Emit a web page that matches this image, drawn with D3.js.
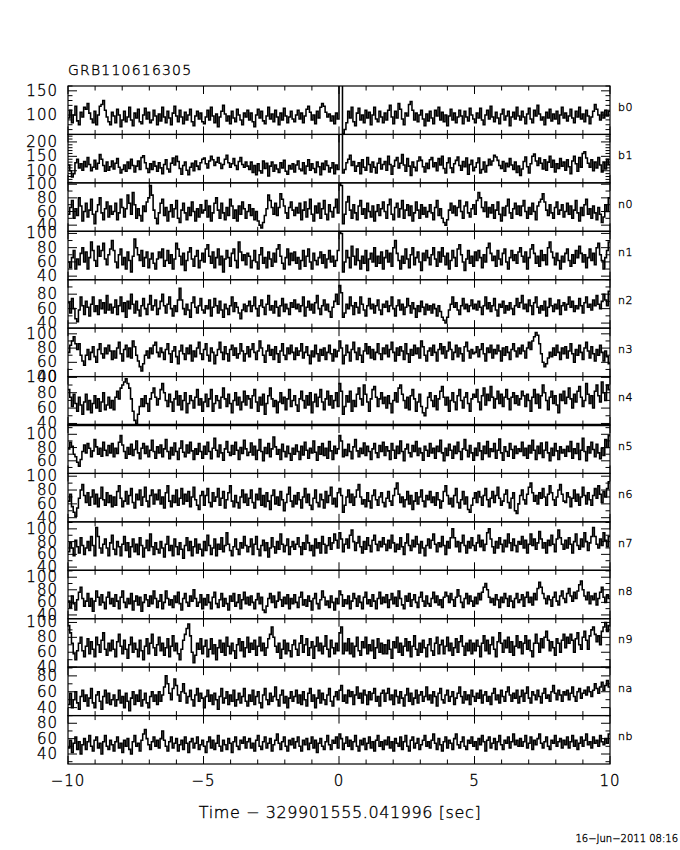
<!DOCTYPE html>
<html><head><meta charset="utf-8">
<script src="https://cdn.jsdelivr.net/npm/d3@7"></script>
<style>body{margin:0;background:#fff}svg text{font-family:"DejaVu Sans",sans-serif;fill:#000;font-weight:200;stroke:#000;stroke-width:0.35}</style>
</head><body><svg id="c" width="680" height="850"></svg>
<script>
const title = "GRB110616305";
const detectors = ["b0","b1","n0","n1","n2","n3","n4","n5","n6","n7","n8","n9","na","nb"];
const yMin = [60,58,31,35,33,40,38,41,34,35,34,40,30,27];
const yMax = [160,226,102,103,100,108,101,114,104,111,111,105,91,90];
const yMajor = [[100,150],[100,150,200],[40,60,80,100],[40,60,80,100],[40,60,80],[40,60,80,100],[40,60,80,100],[60,80,100],[40,60,80,100],[40,60,80,100],[40,60,80,100],[40,60,80,100],[40,60,80],[40,60,80]];
const yMinorStep = [10,10,10,10,10,10,10,10,10,10,10,10,10,10];
const xTickLabels = [-10,-5,0,5,10];
const xLabel = "Time \u2212 329901555.041996 [sec]";
const dateLabel = "16\u2212Jun\u22122011 08:16";
const tStart = -10, tEnd = 10;

const b0 = [94,110,84,100,118,88,80,106,96,116,112,124,104,92,84,108,80,100,118,122,130,110,96,86,80,106,
98,84,112,100,76,90,108,86,96,116,90,78,104,94,112,86,82,100,114,92,106,84,90,110,98,80,
102,88,116,96,84,108,94,80,104,118,98,86,110,96,82,106,90,100,112,86,78,98,108,92,104,86,
82,96,110,90,116,98,84,102,76,96,108,120,102,88,98,82,108,94,86,112,100,90,80,104,96,110,
90,104,86,76,100,112,94,108,88,82,98,116,92,102,86,110,96,80,104,90,114,98,84,96,108,92,
86,100,110,92,104,84,98,112,118,106,90,100,82,108,94,116,124,118,106,96,102,88,98,82,104,92,
178,170,62,70,84,108,94,116,86,78,104,114,90,100,84,110,94,106,80,100,116,92,86,108,96,84,
104,90,110,120,96,82,108,94,124,112,92,80,104,98,122,128,110,90,104,86,100,110,92,78,102,88,
108,94,82,110,98,116,90,106,86,100,78,98,112,90,104,84,96,110,98,82,108,96,88,114,100,92,
84,104,94,114,90,80,100,110,92,118,96,86,106,94,82,102,112,90,98,108,78,96,106,92,116,98,
90,108,96,82,102,114,92,84,110,98,120,102,90,96,80,106,94,112,88,102,92,108,82,100,116,94,
104,88,98,112,94,84,108,96,116,92,102,86,110,98,82,96,108,122,112,100,90,106,94,110,98,108];
const b1 = [120,100,78,90,128,140,110,124,102,132,114,146,122,100,112,136,106,126,156,140,118,98,130,102,114,134,
106,126,142,112,92,104,120,98,130,108,140,118,96,116,134,104,146,152,128,108,94,124,104,132,116,98,
128,110,90,122,138,106,96,126,144,120,150,132,108,88,118,130,102,86,112,126,100,134,116,104,128,140,
144,124,110,134,150,138,118,130,146,126,108,122,140,154,128,112,124,142,118,104,132,146,122,112,130,116,
104,130,94,118,86,124,100,92,134,108,126,82,116,130,98,120,106,94,128,110,136,98,88,118,106,124,
96,120,134,106,100,128,90,116,138,102,124,108,94,130,114,86,126,104,134,118,96,110,128,90,120,104,
250,240,92,104,128,140,154,118,132,98,116,128,90,138,112,102,146,122,96,130,112,92,126,142,106,122,
132,102,150,122,88,116,136,146,110,126,156,120,98,142,116,84,130,112,100,134,148,136,114,96,126,108,
138,146,114,128,100,142,120,150,108,92,128,144,110,94,124,136,148,118,102,132,114,144,88,122,136,100,
112,128,144,92,104,130,96,118,140,120,134,154,148,136,118,108,132,98,126,114,142,120,104,130,94,116,
84,106,132,148,114,92,124,150,158,134,118,144,126,106,138,102,130,150,112,136,96,124,108,142,116,130,
102,138,114,90,134,150,124,98,146,112,160,166,144,126,112,138,100,130,110,146,120,96,130,106,140,122];
const n0 = [56,66,76,50,64,54,80,68,46,60,72,52,62,78,56,42,60,70,80,58,48,64,74,52,68,56,
60,72,48,58,78,66,52,64,84,72,56,88,70,50,64,54,46,68,60,74,80,98,84,62,50,42,
58,72,78,54,66,46,60,70,52,64,76,50,44,62,72,58,48,66,54,74,60,46,64,52,70,58,
62,76,52,68,46,58,72,80,62,50,72,58,48,66,54,78,68,50,62,46,68,56,74,64,50,60,
70,54,64,48,60,46,40,36,44,54,64,84,76,66,56,72,54,66,86,78,68,58,50,66,74,62,
54,66,58,72,48,62,74,52,64,78,56,46,68,58,72,50,64,76,56,48,70,60,52,66,78,58,
104,98,42,56,74,82,62,50,70,58,48,68,76,56,64,50,72,60,52,68,46,60,70,54,64,74,
60,50,70,78,56,48,66,72,52,64,76,50,62,70,54,68,46,58,74,62,50,70,56,66,52,60,
70,58,48,66,76,54,64,50,44,40,48,62,72,58,68,54,66,76,60,50,68,74,58,52,64,70,
56,76,88,80,66,60,74,52,66,58,70,50,62,74,56,46,66,54,68,78,58,50,64,72,56,68,
54,68,76,60,50,66,56,72,60,48,68,74,78,86,74,62,54,70,58,50,66,74,56,62,70,52,
60,72,56,68,50,62,76,58,46,66,54,70,78,56,64,50,68,58,48,66,56,44,52,70,60,80];
const n1 = [60,52,66,76,50,64,56,72,80,60,74,50,66,88,76,62,54,82,68,76,86,64,56,70,78,90,
76,60,52,70,78,56,66,50,74,62,46,68,92,80,70,62,76,54,66,74,52,64,72,58,50,64,
74,66,78,54,62,76,58,70,50,64,86,78,68,56,72,48,62,74,80,64,54,68,76,52,62,72,
60,78,84,68,58,74,52,66,78,56,68,46,64,76,66,54,72,78,62,52,88,74,62,70,56,72,
68,52,62,76,60,50,70,80,58,66,52,74,64,54,72,60,78,84,68,58,50,66,78,56,72,62,
74,58,66,50,62,76,54,68,78,60,50,72,62,56,66,74,58,70,52,64,76,60,68,54,62,76,
106,100,46,60,76,66,52,82,68,56,78,62,50,68,58,76,48,64,72,60,80,54,68,58,74,50,
66,76,60,72,54,80,90,72,62,50,68,58,78,64,52,70,80,56,66,74,60,48,72,62,76,66,
56,70,80,64,54,74,60,80,68,56,72,50,62,76,66,54,78,84,70,60,48,64,76,58,68,54,
74,62,76,66,52,70,60,80,86,72,62,68,54,76,64,56,72,78,60,50,66,76,62,70,58,74,
80,68,60,74,50,66,78,84,72,58,68,54,76,62,70,56,80,88,74,66,56,72,62,50,68,60,
72,78,62,54,70,58,76,66,82,72,60,70,52,66,78,62,72,56,80,86,70,62,50,66,76,88];
const n2 = [68,54,74,60,46,42,58,76,64,52,70,62,50,66,76,56,64,52,72,60,68,54,78,58,66,54,
62,72,52,64,76,56,68,48,70,60,80,66,54,70,58,50,64,74,60,52,66,78,58,64,72,52,
60,70,80,64,54,66,76,60,50,64,56,72,88,72,60,52,66,58,48,68,76,62,54,64,74,58,
54,64,60,72,50,62,74,64,54,70,58,48,66,60,52,64,76,56,68,62,54,46,58,66,56,64,
70,56,64,76,60,50,64,72,62,52,66,78,58,64,54,70,62,50,64,74,56,66,60,52,68,62,
72,60,66,56,64,76,50,62,70,58,66,54,68,78,60,52,64,72,58,66,56,48,62,70,80,66,
92,82,48,54,66,60,76,64,52,68,62,54,76,66,58,50,64,74,60,66,54,64,72,58,52,66,
62,70,56,64,76,60,50,64,72,58,66,52,62,74,64,54,68,60,48,64,56,70,62,52,66,58,
64,54,66,60,50,64,56,48,44,40,48,58,66,76,62,68,58,52,64,74,60,66,56,64,72,60,
66,58,70,62,52,64,76,60,68,56,64,74,58,50,66,62,70,54,64,58,68,60,52,64,74,62,
68,78,60,66,56,72,64,52,68,76,62,54,64,58,70,50,62,74,64,56,66,60,72,52,64,68,
58,66,76,62,70,56,64,60,74,64,54,68,76,62,66,58,72,64,78,66,60,70,80,72,64,84];
const n3 = [74,84,90,96,86,78,86,70,62,56,70,78,64,74,82,68,60,78,86,72,66,80,72,84,76,64,
76,66,80,88,72,62,78,84,68,80,66,90,82,70,62,54,48,58,70,76,66,80,72,84,88,74,
68,80,74,64,78,86,72,60,76,82,68,58,76,84,72,64,80,72,84,62,76,68,80,88,72,64,
78,86,70,62,80,74,58,70,78,88,74,64,82,72,62,78,84,70,80,66,72,86,76,62,72,82,
68,78,86,74,64,76,90,80,70,60,76,84,70,78,64,82,72,60,76,86,70,64,80,72,84,74,
64,80,70,76,86,66,74,82,70,58,76,68,84,72,62,78,70,80,64,74,84,72,62,78,68,76,
90,80,58,70,84,74,62,78,88,74,64,80,70,60,76,86,72,82,66,78,64,74,86,72,64,80,
72,84,68,78,88,74,62,80,70,82,76,64,86,72,60,78,70,84,72,80,66,90,82,70,62,76,
80,70,84,74,62,78,86,72,82,66,76,88,78,64,74,84,68,80,72,62,82,88,76,66,78,72,
74,82,68,78,86,72,62,80,74,84,66,78,72,84,76,62,80,70,82,74,64,78,86,76,68,80,
72,84,76,66,80,88,78,90,96,102,98,86,72,60,54,58,66,74,68,80,70,84,74,64,80,72,
82,66,76,86,72,60,78,70,84,74,64,80,88,76,66,82,72,62,78,70,84,74,62,76,68,58];
const n4 = [84,74,62,78,66,56,74,64,52,68,78,58,70,54,66,76,60,72,56,68,80,58,64,74,60,70,
58,74,82,72,86,90,94,98,92,86,72,56,44,40,52,62,72,62,76,66,56,72,80,86,74,64,
72,84,92,80,70,62,78,68,56,72,82,64,76,58,70,80,54,66,76,70,60,74,84,64,72,56,
68,78,62,72,84,56,66,76,70,60,74,86,72,62,78,66,54,70,80,64,74,58,68,82,64,76,
72,60,76,84,68,56,74,64,78,52,66,76,86,72,62,70,54,68,80,66,74,58,72,84,62,70,
76,64,56,72,82,70,60,76,64,80,54,68,78,62,74,84,68,58,72,82,64,76,60,70,80,62,
92,82,52,62,76,68,82,56,70,62,78,86,72,64,90,78,68,56,72,84,88,74,62,72,80,66,
74,60,76,66,54,70,80,68,86,90,78,70,60,74,58,76,84,72,56,68,78,62,54,50,60,74,
80,70,62,76,58,72,82,88,74,64,74,56,70,80,68,58,76,84,70,60,74,80,66,56,72,78,
74,84,68,58,76,86,64,78,70,88,74,60,72,82,66,78,62,74,84,72,58,74,80,66,76,64,
72,82,76,62,78,70,56,74,84,66,78,60,76,90,80,70,58,74,82,66,76,64,54,78,70,82,
66,74,86,72,60,78,68,82,88,74,62,70,92,78,66,76,60,82,90,76,68,94,80,70,90,84];
const n5 = [78,88,82,70,66,58,52,62,74,84,72,86,79,66,75,92,81,70,79,67,88,76,68,83,72,86,
66,79,71,88,98,84,74,64,80,70,85,68,77,90,72,63,79,86,71,82,66,76,91,74,64,81,
72,84,66,78,92,74,63,80,69,87,74,62,79,90,73,66,84,72,88,75,62,78,70,86,74,64,
82,70,88,74,63,79,94,76,66,84,72,61,78,89,73,68,83,70,88,76,62,80,71,91,78,68,
73,87,69,82,62,76,92,74,60,80,71,86,66,78,96,81,70,77,62,85,74,66,82,71,61,79,
70,84,74,62,82,69,88,76,64,79,72,90,73,61,81,70,86,68,79,64,89,75,62,82,71,78,
98,90,66,77,68,85,74,63,81,92,75,66,79,71,87,68,82,74,62,78,86,72,65,83,74,88,
68,81,75,62,86,76,64,82,71,90,74,60,78,85,72,66,83,74,89,68,79,72,61,82,76,67,
86,72,79,64,82,74,91,72,60,79,68,85,76,64,82,71,88,74,62,78,92,76,66,83,72,61,
79,68,87,75,62,82,71,89,66,78,74,86,64,76,93,72,61,81,74,67,86,77,64,82,71,78,
74,88,68,79,64,83,72,91,76,62,82,71,87,65,76,88,72,60,79,68,86,75,62,81,72,77,
67,82,74,89,64,78,71,86,62,76,94,74,60,81,72,88,77,66,85,72,63,79,68,92,80,98];
const n6 = [64,74,56,48,42,54,68,80,88,72,62,76,58,70,80,60,74,56,68,84,66,58,76,62,72,56,
70,58,78,86,68,56,64,78,60,72,82,62,54,74,66,80,58,70,84,64,56,72,80,60,74,66,
80,60,70,54,76,86,64,56,72,62,80,58,68,82,60,74,64,78,56,70,84,66,58,52,72,78,
58,72,82,62,56,76,64,70,82,58,68,78,54,66,76,86,64,56,72,62,54,70,80,62,74,58,
68,80,62,54,74,66,82,58,72,56,76,64,52,72,80,60,70,58,78,66,50,62,74,84,64,56,
72,60,76,66,54,70,82,62,74,58,52,68,80,62,56,74,66,54,78,62,72,84,60,68,56,76,
82,72,48,58,70,80,62,74,58,70,80,88,70,60,66,56,76,64,54,72,80,66,58,70,76,62,
56,68,78,64,58,72,82,90,74,62,70,56,66,78,60,72,52,64,76,60,70,80,64,56,72,66,
78,62,70,58,76,66,54,64,78,86,72,60,68,56,72,82,62,54,66,78,60,70,52,48,58,68,
76,62,78,70,58,72,82,66,56,68,78,62,72,84,68,58,64,74,80,62,54,68,76,50,46,60,
72,80,66,60,74,84,90,76,64,72,60,76,68,82,70,58,74,86,76,66,58,70,80,88,74,64,
62,76,70,56,68,80,64,74,58,70,84,72,60,76,66,58,72,82,68,86,74,62,78,70,82,92];
const n7 = [64,78,70,58,82,72,62,86,74,60,70,80,66,88,74,58,102,88,70,62,76,84,70,58,78,90,
68,60,80,72,58,76,88,66,78,56,72,84,64,76,60,86,74,56,70,82,66,92,72,60,78,68,
62,80,70,56,76,88,66,74,58,84,72,60,78,68,54,74,86,66,80,58,72,84,62,76,68,58,
80,66,90,74,60,70,84,58,76,68,86,64,74,94,76,66,58,72,84,68,60,78,70,88,74,64,
72,84,60,76,88,68,58,74,82,66,78,56,70,86,72,62,80,68,92,76,64,74,84,60,72,80,
68,76,86,72,60,78,68,90,78,66,74,58,84,70,78,62,88,76,62,74,86,68,78,92,82,70,
94,84,64,76,84,70,90,98,80,66,78,88,72,62,80,68,86,74,64,82,90,76,66,80,72,86,
76,66,82,70,90,78,64,76,68,86,72,60,78,92,74,66,82,72,88,76,62,80,70,58,74,84,
70,82,92,76,64,78,72,88,74,60,80,70,86,100,86,72,80,64,78,90,74,62,80,70,86,74,
66,78,90,72,82,66,76,94,100,84,72,62,80,70,86,76,64,82,72,92,78,66,84,74,64,80,
76,88,70,82,62,76,92,74,84,68,78,96,84,70,78,62,82,74,90,76,64,84,98,86,76,68,
82,70,86,76,62,80,92,74,68,84,72,94,80,66,78,88,102,88,76,70,84,74,94,82,72,88];
const n8 = [62,52,70,58,48,64,76,84,66,54,62,74,54,66,46,62,78,68,56,72,60,50,68,76,58,66,
54,72,62,50,68,78,60,52,66,58,74,48,62,70,56,68,46,60,72,64,54,70,58,78,66,52,
62,72,50,60,78,66,56,64,52,70,60,76,58,48,66,74,60,54,70,62,80,66,54,60,72,50,
66,56,72,60,50,68,76,58,52,64,74,54,66,58,48,70,62,74,54,60,72,50,64,76,58,68,
56,70,60,50,64,74,58,68,48,44,54,66,74,60,70,52,62,76,64,54,68,58,72,50,66,58,
72,60,52,68,76,56,64,54,70,62,48,66,74,58,50,64,78,68,56,62,52,70,60,48,66,58,
78,72,54,64,58,70,50,62,74,66,54,70,60,50,68,76,58,64,54,72,62,50,66,76,58,68,
60,72,52,64,74,58,68,54,78,66,56,50,70,62,74,54,64,72,60,52,68,76,62,54,70,58,
54,66,76,60,70,56,64,52,68,76,70,60,74,64,54,68,80,70,60,52,66,74,58,70,62,54,
68,58,74,64,76,84,90,80,68,60,66,56,72,64,52,68,60,74,66,54,70,62,52,66,74,60,
64,72,54,68,76,60,68,56,74,64,82,92,84,74,66,58,70,64,54,68,76,62,56,70,78,66,
60,74,82,70,62,76,66,78,88,94,80,70,64,76,58,70,64,74,56,66,76,84,68,60,72,66];
const n9 = [96,86,72,58,50,62,72,80,62,54,68,78,58,74,64,54,80,70,60,76,86,64,56,72,62,76,
64,54,74,84,68,58,76,64,52,70,80,60,72,64,54,76,62,50,68,78,58,72,84,66,56,70,
80,62,72,56,66,78,54,68,82,62,72,58,50,64,76,84,92,98,82,60,46,56,72,64,78,58,
68,76,54,64,78,58,70,50,66,76,60,72,56,80,68,58,72,62,52,70,78,62,74,54,66,80,
60,72,64,76,56,68,80,62,72,56,66,78,84,94,80,68,60,72,52,64,76,58,72,62,54,70,
76,64,56,72,82,60,70,78,56,66,74,52,68,80,62,72,58,68,82,64,54,76,66,58,72,62,
86,94,58,72,62,78,58,72,54,68,80,62,56,74,66,80,58,70,62,76,52,66,78,60,72,58,
70,58,76,64,52,74,66,80,60,72,56,68,78,62,74,54,68,82,64,56,72,60,76,66,54,70,
78,62,56,72,80,58,70,76,58,68,80,62,72,56,66,78,60,74,82,68,56,72,62,76,58,72,
62,76,68,54,72,82,62,76,58,70,80,64,54,74,86,72,60,76,66,80,60,74,56,68,82,66,
74,58,72,82,64,76,62,54,72,84,72,60,78,66,80,88,76,62,74,66,56,78,72,60,76,84,
66,80,72,84,76,60,78,86,70,64,80,88,76,64,82,90,94,84,74,82,70,88,94,100,88,96];
const na = [44,58,40,50,60,46,38,54,62,48,56,42,52,64,46,40,56,60,48,38,54,62,46,58,44,50,
56,42,50,62,46,54,40,58,48,36,52,60,44,56,48,62,42,50,58,46,40,54,60,48,56,44,
60,48,56,66,80,70,58,50,64,76,68,56,48,60,70,58,46,54,62,50,42,56,64,48,58,52,
40,54,62,48,56,44,58,50,38,54,64,46,52,60,44,56,48,62,42,50,58,46,54,64,48,42,
56,48,62,44,54,60,46,40,56,64,50,44,58,48,54,66,50,42,56,62,46,54,40,52,60,48,
54,62,46,56,44,60,50,42,58,64,48,56,40,52,62,46,58,50,44,56,64,48,42,54,60,50,
62,68,48,56,46,62,54,60,44,56,66,52,58,46,62,56,44,60,50,58,64,48,54,42,58,62,
48,58,64,50,56,44,62,54,46,60,52,42,56,64,48,58,44,52,62,46,56,60,48,54,66,50,
56,46,60,54,42,58,64,50,46,56,62,48,54,60,44,52,58,66,54,46,60,50,56,44,62,54,
48,58,52,62,46,56,60,48,54,44,58,64,50,56,46,62,54,48,60,66,56,48,58,52,62,46,
54,62,48,58,66,52,46,60,56,50,62,54,46,58,64,52,56,48,60,68,58,50,62,56,48,60,
56,62,50,58,66,54,48,60,64,52,58,62,56,66,60,54,62,70,64,58,66,72,62,68,74,66];
const nb = [48,58,42,54,62,46,56,40,52,60,46,56,64,50,44,58,62,48,54,40,56,64,50,46,58,52,
44,56,62,48,54,42,58,50,60,46,40,56,64,50,54,44,58,66,72,60,52,46,56,62,50,58,
48,60,70,58,50,44,56,62,48,54,60,44,52,58,46,62,54,42,56,60,48,54,62,46,52,58,
50,42,56,62,48,58,46,54,64,50,44,58,52,46,60,54,42,56,62,50,46,58,54,62,48,56,
60,48,54,44,58,64,50,46,56,62,48,54,60,44,52,58,66,54,46,56,62,50,44,58,52,60,
48,56,62,50,44,58,52,60,46,54,62,48,58,42,54,60,50,46,56,64,52,46,58,54,62,48,
66,60,46,54,62,50,58,46,56,64,50,44,58,52,60,46,54,62,48,56,44,58,64,50,56,46,
58,52,62,48,56,44,60,54,50,62,46,56,64,50,44,58,62,48,54,60,46,52,58,64,50,56,
48,58,66,54,46,60,52,44,56,62,48,58,54,46,60,66,52,48,56,62,50,46,58,54,62,50,
56,46,60,52,64,56,44,58,62,48,54,60,46,56,64,52,46,58,54,62,48,56,66,52,58,50,
60,50,56,64,48,54,62,46,58,52,60,66,54,48,56,62,50,46,58,54,64,50,56,60,48,58,
52,62,48,56,64,50,58,46,54,62,50,58,66,52,56,48,62,54,58,50,64,56,52,60,54,66];
const series = [b0,b1,n0,n1,n2,n3,n4,n5,n6,n7,n8,n9,na,nb];

const svg = d3.select("#c");
const L = 68, R = 610, T = 86, B = 764;
const nP = detectors.length;
const ph = (B - T) / nP;
const x = d3.scaleLinear().domain([tStart, tEnd]).range([L, R]);

svg.append("text").attr("x", L).attr("y", 70).attr("dominant-baseline","central")
  .attr("font-size", 14).attr("letter-spacing", 1.2).text(title);

const defs = svg.append("defs");
detectors.forEach((d, i) => {
  const top = T + i * ph, bot = top + ph;
  const y = d3.scaleLinear().domain([yMin[i], yMax[i]]).range([bot, top]);
  defs.append("clipPath").attr("id", "cp" + i).append("rect")
    .attr("x", L).attr("y", top).attr("width", R - L).attr("height", ph);
  const g = svg.append("g");
  const vals = series[i];
  const bw = (tEnd - tStart) / vals.length;
  const pts = vals.map((v, k) => [tStart + k * bw, v]);
  pts.push([tEnd, vals[vals.length - 1]]);
  const line = d3.line().x(p => x(p[0])).y(p => y(p[1])).curve(d3.curveStepAfter);
  g.append("path").attr("d", line(pts)).attr("fill", "none").attr("stroke", "#000")
    .attr("stroke-width", 1.55).attr("clip-path", "url(#cp" + i + ")");
  g.append("rect").attr("x", L).attr("y", top).attr("width", R - L).attr("height", ph)
    .attr("fill", "none").attr("stroke", "#000").attr("stroke-width", 1.2);
  d3.range(-10, 11, 1).forEach(t => {
    const len = (t % 5 === 0) ? 8 : 4.5;
    g.append("line").attr("x1", x(t)).attr("x2", x(t)).attr("y1", bot).attr("y2", bot - len).attr("stroke", "#000");
    g.append("line").attr("x1", x(t)).attr("x2", x(t)).attr("y1", top).attr("y2", top + len).attr("stroke", "#000");
  });
  const minors = d3.range(Math.ceil(yMin[i] / yMinorStep[i]) * yMinorStep[i], yMax[i] + 0.01, yMinorStep[i]);
  minors.forEach(v => {
    const major = yMajor[i].includes(v);
    const len = major ? 9 : 4.5;
    g.append("line").attr("x1", L).attr("x2", L + len).attr("y1", y(v)).attr("y2", y(v)).attr("stroke", "#000");
    g.append("line").attr("x1", R).attr("x2", R - len).attr("y1", y(v)).attr("y2", y(v)).attr("stroke", "#000");
  });
  yMajor[i].forEach(v => {
    g.append("text").attr("x", 58).attr("y", y(v)).attr("dominant-baseline", "central")
      .attr("text-anchor", "end").attr("font-size", 15).attr("letter-spacing", 1).text(v);
  });
  g.append("text").attr("x", 618).attr("y", (top + bot) / 2 - 3).attr("dominant-baseline", "central")
    .attr("font-size", 11).attr("letter-spacing", 0.5).text(d);
});
svg.append("line").attr("x1", L).attr("x2", R).attr("y1", T + 7 * ph).attr("y2", T + 7 * ph)
  .attr("stroke", "#000").attr("stroke-width", 2.6);

xTickLabels.forEach(t => {
  svg.append("text").attr("x", x(t)).attr("y", 781).attr("dominant-baseline", "central")
    .attr("text-anchor", "middle").attr("font-size", 15).attr("letter-spacing", 1)
    .text(t < 0 ? "\u2212" + Math.abs(t) : t);
});
svg.append("text").attr("x", 340).attr("y", 812).attr("dominant-baseline", "central")
  .attr("text-anchor", "middle").attr("font-size", 16).attr("letter-spacing", 0.6).text(xLabel);
svg.append("text").attr("x", 678).attr("y", 838).attr("dominant-baseline", "central")
  .attr("text-anchor", "end").attr("font-size", 10).attr("stroke-width", 0.2).text(dateLabel);
</script></body></html>
